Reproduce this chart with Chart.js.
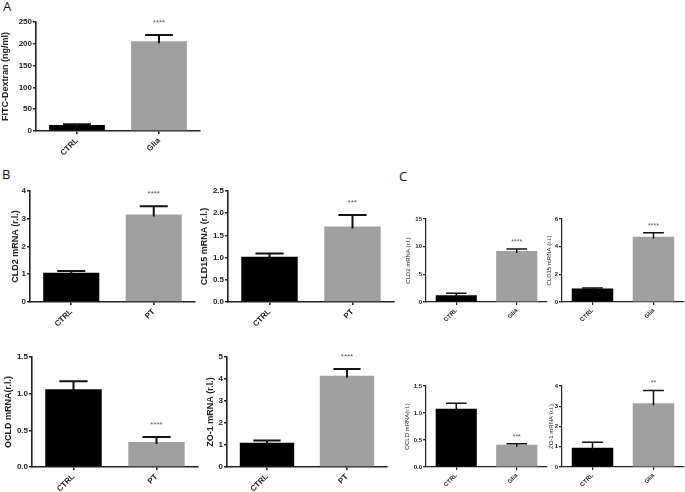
<!DOCTYPE html>
<html>
<head>
<meta charset="utf-8" />
<title>Barrier panels</title>
<script src="https://cdn.jsdelivr.net/npm/chart.js"></script>
<style>
  html, body { margin: 0; padding: 0; background: #fff; }
  body { position: relative; width: 685px; height: 492px; overflow: hidden; font-family: "Liberation Sans", Arial, sans-serif; }
  canvas { position: absolute; }
  .tag { position: absolute; font-family: "Open Sans", "Liberation Sans", sans-serif; font-size: 13px; color: #111; }
</style>
</head>
<body>
<div class="tag" style="left:3px; top:-3px;">A</div>
<div class="tag" style="left:2px; top:165px;">B</div>
<div class="tag" style="left:399px; top:167px;">C</div>

<canvas id="pA"></canvas>
<canvas id="pB1"></canvas>
<canvas id="pB2"></canvas>
<canvas id="pB3"></canvas>
<canvas id="pB4"></canvas>
<canvas id="pC1"></canvas>
<canvas id="pC2"></canvas>
<canvas id="pC3"></canvas>
<canvas id="pC4"></canvas>

<script>
// categories
const groupsGlia = ['CTRL', 'Glia'];
const groupsPT = ['CTRL', 'PT'];

// A: FITC-dextran
const fitcMean = [14, 206];
const fitcSem = [1.5, 14];
const fitcStars = ['', '****'];

// B: PT treated
const cld2PTMean = [1.05, 3.15];
const cld2PTSem = [0.07, 0.30];
const cld2PTStars = ['', '****'];

const cld15PTMean = [1.02, 1.70];
const cld15PTSem = [0.07, 0.26];
const cld15PTStars = ['', '***'];

const ocldPTMean = [1.06, 0.34];
const ocldPTSem = [0.11, 0.07];
const ocldPTStars = ['', '****'];

const zo1PTMean = [1.10, 4.15];
const zo1PTSem = [0.10, 0.30];
const zo1PTStars = ['', '****'];

// C: Glia
const cld2GliaMean = [1.2, 9.2];
const cld2GliaSem = [0.4, 0.4];
const cld2GliaStars = ['', '****'];

const cld15GliaMean = [0.97, 4.72];
const cld15GliaSem = [0.05, 0.28];
const cld15GliaStars = ['', '****'];

const ocldGliaMean = [1.08, 0.41];
const ocldGliaSem = [0.10, 0.02];
const ocldGliaStars = ['', '***'];

const zo1GliaMean = [0.95, 3.15];
const zo1GliaSem = [0.27, 0.63];
const zo1GliaStars = ['', '**'];

// draws the upper error bar and the significance marks
const errorBars = {
  id: 'errorBars',
  afterDatasetsDraw(chart, args, opts) {
    const ctx = chart.ctx;
    const y = chart.scales.y;
    const ds = chart.data.datasets[0];
    chart.getDatasetMeta(0).data.forEach((bar, i) => {
      const top = y.getPixelForValue(ds.data[i] + opts.sem[i]);
      const half = bar.width / 4;
      ctx.save();
      ctx.strokeStyle = '#111';
      ctx.lineWidth = opts.lw;
      ctx.beginPath();
      ctx.moveTo(bar.x, bar.y + 2);
      ctx.lineTo(bar.x, top);
      ctx.moveTo(bar.x - half, top);
      ctx.lineTo(bar.x + half, top);
      ctx.stroke();
      if (opts.stars[i]) {
        ctx.fillStyle = '#555';
        ctx.font = opts.starSize + 'px "Liberation Sans", Arial, sans-serif';
        ctx.textAlign = 'center';
        ctx.textBaseline = 'middle';
        ctx.fillText(opts.stars[i], bar.x, top - opts.starGap);
      }
      ctx.restore();
    });
  }
};

function panel(id, box, cats, mean, sem, stars, title, max, step, dec, small) {
  const cv = document.getElementById(id);
  cv.width = box.w; cv.height = box.h;
  cv.style.left = box.x + 'px'; cv.style.top = box.y + 'px';
  const tickSize = small ? 6 : 8;
  const titleSize = small ? 6 : 9;
  const axisW = small ? 1.2 : 1.6;
  const yWidth = box.ax - box.x;
  const xHeight = box.y + box.h - box.az;
  new Chart(cv, {
    type: 'bar',
    data: {
      labels: cats,
      datasets: [{
        data: mean,
        backgroundColor: ['#000000', '#a0a0a0'],
        borderWidth: 0,
        categoryPercentage: 1,
        barPercentage: 0.68
      }]
    },
    options: {
      responsive: false,
      animation: false,
      layout: { padding: { top: box.at - box.y, right: box.x + box.w - box.ae, left: 0, bottom: 0 } },
      plugins: {
        legend: { display: false },
        tooltip: { enabled: false },
        errorBars: { sem: sem, stars: stars, lw: small ? 1.5 : 2, starSize: small ? 7 : 8, starGap: small ? 7 : 12 }
      },
      scales: {
        x: {
          offset: true,
          afterFit: s => { s.height = xHeight; },
          grid: { offset: false, drawOnChartArea: false, drawTicks: true, tickLength: 3, color: '#222', lineWidth: axisW },
          border: { color: '#222', width: axisW },
          ticks: {
            minRotation: 45, maxRotation: 45, padding: 2,
            color: '#222',
            font: { family: '"Liberation Sans", Arial, sans-serif', size: tickSize, weight: 'bold' }
          }
        },
        y: {
          min: 0, max: max,
          afterFit: s => { s.width = yWidth; },
          grid: { drawOnChartArea: false, drawTicks: true, tickLength: 3, color: '#222', lineWidth: axisW },
          border: { color: '#222', width: axisW },
          ticks: {
            stepSize: step, padding: 1, color: '#222',
            font: { family: '"Liberation Sans", Arial, sans-serif', size: tickSize, weight: 'bold' },
            callback: v => Number(v).toFixed(dec)
          },
          title: {
            display: true, text: title, color: '#222',
            font: { family: '"Liberation Sans", Arial, sans-serif', size: titleSize, weight: small ? 'normal' : 'bold' },
            padding: { top: Math.max(0, box.tx - box.x - titleSize * 0.6), bottom: 0 }
          }
        }
      }
    },
    plugins: [errorBars]
  });
}

// layout boxes: canvas x,y,w,h; axis left (ax), axis top (at), axis end (ae), zero line (az); title centre (tx)
panel('pA',  { x: 0,   y: 8,   w: 205, h: 152, ax: 36,  at: 22,  ae: 200, az: 131, tx: 6 },   groupsGlia, fitcMean, fitcSem, fitcStars, 'FITC-Dextran (ng/ml)', 250, 50, 0, false);
panel('pB1', { x: 0,   y: 175, w: 200, h: 155, ax: 30,  at: 191, ae: 195, az: 302, tx: 16 },  groupsPT, cld2PTMean, cld2PTSem, cld2PTStars, 'CLD2 mRNA (r.l.)', 4, 1, 0, false);
panel('pB2', { x: 198, y: 175, w: 200, h: 155, ax: 228, at: 191, ae: 394, az: 302, tx: 205 }, groupsPT, cld15PTMean, cld15PTSem, cld15PTStars, 'CLD15 mRNA (r.l.)', 2.5, 0.5, 1, false);
panel('pB3', { x: 0,   y: 340, w: 202, h: 152, ax: 32,  at: 357, ae: 198, az: 467, tx: 9 },   groupsPT, ocldPTMean, ocldPTSem, ocldPTStars, 'OCLD mRNA(r.l.)', 1.5, 0.5, 1, false);
panel('pB4', { x: 198, y: 340, w: 194, h: 152, ax: 227, at: 357, ae: 387, az: 467, tx: 211 }, groupsPT, zo1PTMean, zo1PTSem, zo1PTStars, 'ZO-1 mRNA (r.l.)', 5, 1, 0, false);
panel('pC1', { x: 400, y: 205, w: 150, h: 125, ax: 426, at: 219, ae: 547, az: 302, tx: 408 }, groupsGlia, cld2GliaMean, cld2GliaSem, cld2GliaStars, 'CLD2 mRNA (r.l.)', 15, 5, 0, true);
panel('pC2', { x: 540, y: 205, w: 145, h: 125, ax: 562, at: 219, ae: 684, az: 302, tx: 549 }, groupsGlia, cld15GliaMean, cld15GliaSem, cld15GliaStars, 'CLD15 mRNA (r.l.)', 6, 2, 0, true);
panel('pC3', { x: 400, y: 370, w: 150, h: 122, ax: 426, at: 386, ae: 547, az: 467, tx: 407 }, groupsGlia, ocldGliaMean, ocldGliaSem, ocldGliaStars, 'OCLD mRNA(r.l.)', 1.5, 0.5, 1, true);
panel('pC4', { x: 540, y: 370, w: 145, h: 122, ax: 562, at: 386, ae: 684, az: 467, tx: 551 }, groupsGlia, zo1GliaMean, zo1GliaSem, zo1GliaStars, 'ZO-1 mRNA (r.l.)', 4, 1, 0, true);
</script>
</body>
</html>
